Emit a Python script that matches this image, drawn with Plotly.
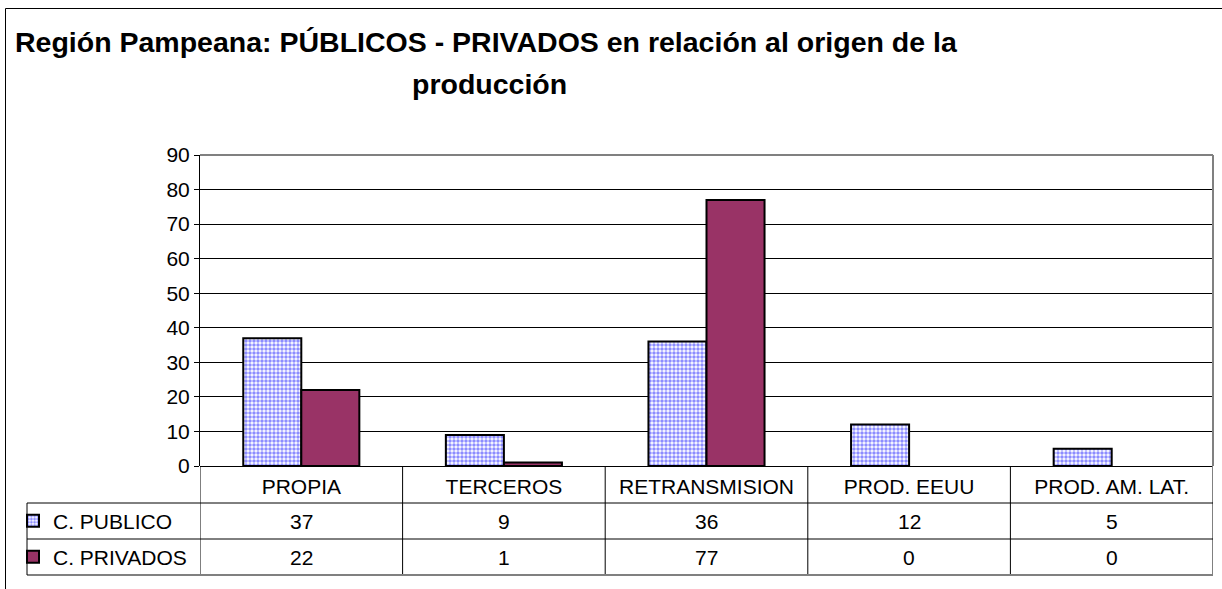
import plotly.graph_objects as go

categories = ["PROPIA", "TERCEROS", "RETRANSMISION", "PROD. EEUU", "PROD. AM. LAT."]
publico = [37, 9, 36, 12, 5]
privados = [22, 1, 77, 0, 0]
series_names = ["C. PUBLICO", "C. PRIVADOS"]
title_line1 = "Región Pampeana: PÚBLICOS - PRIVADOS en relación al origen de la"
title_line2 = "producción"

W, H = 1222, 589
L, R, T, B = 200, 1213, 155, 466  # plot area in pixels
FONT = "Liberation Sans, Arial, sans-serif"
FS = 21

def px_x(px):
    return (px - L) / (R - L)

def px_y(py):
    return (B - py) / (B - T)

PUB_COLOR = "#8C8CFF"
PRIV_COLOR = "#993366"

fig = go.Figure()
fig.add_trace(go.Bar(
    x=categories, y=publico, name=series_names[0], legend="legend",
    marker=dict(color="white",
                line=dict(color="black", width=[2 if v > 0 else 0 for v in publico]),
                pattern=dict(shape=".", fgcolor=PUB_COLOR, bgcolor="white",
                             size=4, solidity=0.6, fillmode="replace")),
))
fig.add_trace(go.Bar(
    x=categories, y=privados, name=series_names[1], legend="legend2",
    marker=dict(color=PRIV_COLOR,
                line=dict(color="black", width=[2 if v > 0 else 0 for v in privados])),
))

n = len(categories)
shapes = []
line_black = dict(color="black", width=1)
# table vertical lines at category boundaries
for i in range(n + 1):
    shapes.append(dict(type="line", xref="x", yref="paper",
                       x0=i - 0.5, x1=i - 0.5, y0=0, y1=px_y(575),
                       line=dict(color="#808080" if i == n else "black", width=2 if i == n else 1)))
# table horizontal lines
for py in (503, 539, 575):
    shapes.append(dict(type="line", xref="paper", yref="paper",
                       x0=px_x(27), x1=px_x(R), y0=px_y(py), y1=px_y(py),
                       line=dict(color="#808080" if py == 575 else "black", width=2 if py == 575 else 1)))
# legend column left line
shapes.append(dict(type="line", xref="paper", yref="paper",
                   x0=px_x(27), x1=px_x(27), y0=px_y(503), y1=px_y(575),
                   line=line_black))
# plot area top & right gray border
shapes.append(dict(type="line", xref="paper", yref="paper",
                   x0=0, x1=1, y0=1, y1=1, line=dict(color="#808080", width=2)))
shapes.append(dict(type="line", xref="paper", yref="paper",
                   x0=1, x1=1, y0=0, y1=1, line=dict(color="#808080", width=2)))
# outer chart frame (left & top)
shapes.append(dict(type="line", xref="paper", yref="paper",
                   x0=px_x(5.5), x1=px_x(5.5), y0=px_y(8.5), y1=px_y(600),
                   line=dict(color="black", width=1)))
shapes.append(dict(type="line", xref="paper", yref="paper",
                   x0=px_x(5.5), x1=px_x(1230), y0=px_y(8.5), y1=px_y(8.5),
                   line=dict(color="black", width=1)))

annotations = []
for cat, v in zip(categories, publico):
    annotations.append(dict(x=cat, xref="x", y=px_y(521), yref="paper", text=str(v),
                            xanchor="center", yanchor="middle",
                            showarrow=False, font=dict(size=FS, color="black", family=FONT)))
for cat, v in zip(categories, privados):
    annotations.append(dict(x=cat, xref="x", y=px_y(557), yref="paper", text=str(v),
                            xanchor="center", yanchor="middle",
                            showarrow=False, font=dict(size=FS, color="black", family=FONT)))
annotations.append(dict(x=px_x(486), xref="paper", y=px_y(42), yref="paper", text=f"<b>{title_line1}</b>",
                        xanchor="center", yanchor="middle",
                        showarrow=False, font=dict(size=28.5, color="black", family=FONT)))
annotations.append(dict(x=px_x(489), xref="paper", y=px_y(84), yref="paper", text=f"<b>{title_line2}</b>",
                        xanchor="center", yanchor="middle",
                        showarrow=False, font=dict(size=28.5, color="black", family=FONT)))

fig.update_layout(
    width=W, height=H,
    margin=dict(l=L, r=W - R, t=T, b=H - B, pad=0),
    paper_bgcolor="white", plot_bgcolor="white",
    font=dict(family=FONT, size=FS, color="black"),
    barmode="group", bargap=0.427, bargroupgap=0,
    showlegend=True,
    legend=dict(x=px_x(13), xanchor="left", y=px_y(521), yanchor="middle",
                bgcolor="rgba(0,0,0,0)", font=dict(size=FS, family=FONT)),
    legend2=dict(x=px_x(13), xanchor="left", y=px_y(557), yanchor="middle",
                 bgcolor="rgba(0,0,0,0)", font=dict(size=FS, family=FONT)),
    shapes=shapes, annotations=annotations,
    xaxis=dict(range=[-0.5, n - 0.5], showgrid=False, showline=False, ticks="",
               tickfont=dict(size=FS, family=FONT), ticklabelstandoff=6, zeroline=False),
    yaxis=dict(range=[0, 90], dtick=10, showgrid=True, gridcolor="black", gridwidth=1,
               showline=True, linecolor="black", linewidth=1, ticks="outside", ticklen=5,
               tickcolor="black", tickfont=dict(size=FS, family=FONT), zeroline=True,
               zerolinecolor="black", zerolinewidth=1),
)

fig.write_html("out.html", config={"displayModeBar": False},
               post_script="document.body.style.margin='0';document.body.style.overflow='hidden';")
